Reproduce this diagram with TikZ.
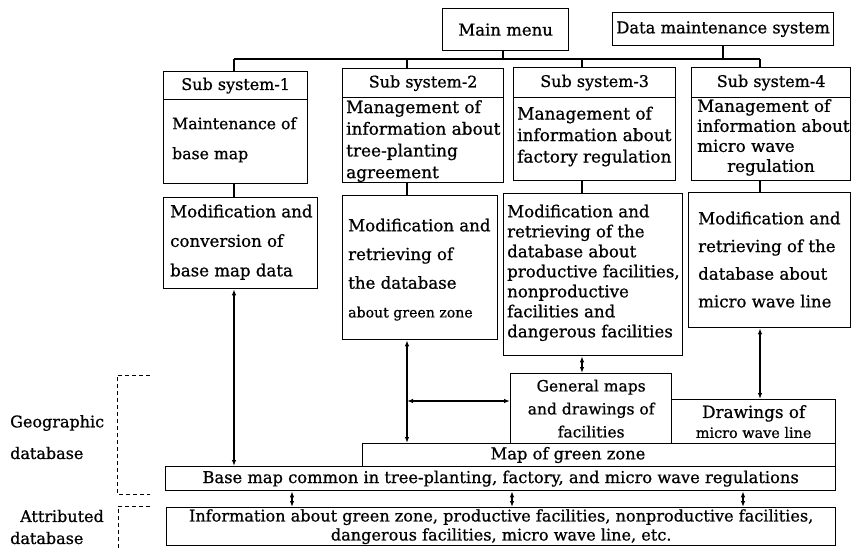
\documentclass[tikz,border=0pt]{standalone}
\usepackage{fontspec}
\setmainfont{DejaVu Serif}[RawFeature={embolden=0.8}]
\usetikzlibrary{arrows.meta}
\begin{document}
\begin{tikzpicture}[x=1pt,y=-1pt,
  box/.style={draw, line width=1.3pt, inner sep=0pt, anchor=north west, align=center,
    font=\fontsize{16.3}{23}\selectfont},
  head/.style={box, font=\fontsize{16}{19}\selectfont},
  txt/.style={inner sep=0pt, anchor=north west, align=left},
  lbl/.style={inner sep=0pt, anchor=west, font=\fontsize{16}{19}\selectfont},
  link/.style={line width=1.3pt},
  biarrow/.style={line width=1.3pt, {Latex[length=6pt,width=4.5pt]}-{Latex[length=6pt,width=4.5pt]}},
  bracket/.style={line width=1pt, dash pattern=on 4pt off 3pt}
]
\useasboundingbox (0,0) rectangle (851,549);

% top level menus
\node[box, minimum width=126pt, minimum height=42pt, font=\fontsize{16.5}{19}\selectfont] (main) at (442,8) {Main menu};
\node[box, minimum width=221pt, minimum height=33pt] (data) at (612,12) {Data maintenance system};

% sub systems: header and body
\node[head, minimum width=144pt, minimum height=28pt] (sub1h) at (163,71) {Sub system-1};
\node[box, minimum width=144pt, minimum height=84pt] (sub1b) at (163,99) {};
\node[head, minimum width=161pt, minimum height=29pt] (sub2h) at (342,68) {Sub system-2};
\node[box, minimum width=161pt, minimum height=85pt] (sub2b) at (342,97) {};
\node[head, minimum width=162pt, minimum height=30pt] (sub3h) at (513,67) {Sub system-3};
\node[box, minimum width=162pt, minimum height=83pt] (sub3b) at (513,97) {};
\node[head, minimum width=159pt, minimum height=30pt] (sub4h) at (691,67) {Sub system-4};
\node[box, minimum width=159pt, minimum height=83pt] (sub4b) at (691,97) {};

\node[txt, font=\fontsize{15.7}{30}\selectfont] (sub1t) at (172,117) {Maintenance of\\base map};
\node[txt, font=\fontsize{16.9}{21.7}\selectfont] (sub2t) at (346,100) {Management of\\information about\\tree-planting\\agreement};
\node[txt, font=\fontsize{16.9}{21.5}\selectfont] (sub3t) at (517,106.5) {Management of\\information about\\factory regulation};
\node[txt, font=\fontsize{16.7}{20}\selectfont] (sub4t) at (697,99) {Management of\\information about\\micro wave\\\hspace*{30pt}regulation};

% database operation boxes
\node[box, minimum width=154pt, minimum height=91pt] (mod1) at (163,197) {};
\node[box, minimum width=155pt, minimum height=144pt] (mod2) at (342,195) {};
\node[box, minimum width=179pt, minimum height=162pt] (mod3) at (503,193) {};
\node[box, minimum width=162pt, minimum height=135pt] (mod4) at (688,192) {};

\node[txt, font=\fontsize{16.6}{29.5}\selectfont] (mod1t) at (170,204.5) {Modification and\\conversion of\\base map data};
\node[txt, font=\fontsize{16.6}{28.7}\selectfont] (mod2t) at (348,218.5) {Modification and\\retrieving of\\the database\\{\fontsize{14.1}{28.7}\selectfont about green zone}};
\node[txt, font=\fontsize{16.6}{20}\selectfont] (mod3t) at (507,204.5) {Modification and\\retrieving of the\\database about\\productive facilities,\\nonproductive\\facilities and\\dangerous facilities};
\node[txt, font=\fontsize{16.6}{27.7}\selectfont] (mod4t) at (698,211.5) {Modification and\\retrieving of the\\database about\\micro wave line};

% geographic database layers
\node[box, minimum width=161pt, minimum height=70pt, font=\fontsize{15.5}{23}\selectfont] (gen) at (510,373) {General maps\\and drawings of\\facilities};
\node[box, minimum width=164pt, minimum height=44pt, font=\fontsize{16.8}{20}\selectfont] (drw) at (671,399) {Drawings of\\{\fontsize{14.4}{20}\selectfont micro wave line}};
\node[box, minimum width=473pt, minimum height=23pt] (green) at (362,443) {};
\node[inner sep=0pt, font=\fontsize{16.3}{19}\selectfont] (greent) at (568,455) {Map of green zone};
\node[box, minimum width=670pt, minimum height=24pt] (base) at (165,466) {Base map common in tree-planting, factory, and micro wave regulations};

% attribute database
\node[box, minimum width=669pt, minimum height=38pt, font=\fontsize{16.1}{19}\selectfont] (info) at (166,507) {Information about green zone, productive facilities, nonproductive facilities,\\dangerous facilities, micro wave line, etc.};

% side labels
\node[lbl] (geo1) at (10,423) {Geographic};
\node[lbl] (geo2) at (10,453) {database};
\node[lbl] (att1) at (20,516) {Attributed};
\node[lbl] (att2) at (10,538) {database};
\draw[bracket] (150,375) -- (117,375) -- (117,494) -- (150,494);
\draw[bracket] (150,506) -- (118,506) -- (118,549);

% menu bus
\coordinate (busL) at (234,59);
\coordinate (busR) at (760,59);
\coordinate (m0) at (503,0);
\coordinate (m1) at (723,0);
\coordinate (c1) at (234,0);
\coordinate (c2) at (407,0);
\coordinate (c3) at (582,0);
\coordinate (c4) at (760,0);
\draw[link] (busL) -- (busR);
\draw[link] (m0 |- main.south) -- (m0 |- busL);
\draw[link] (m1 |- data.south) -- (m1 |- busL);

\draw[link] (c1 |- busL) -- (c1 |- sub1h.north);
\draw[link] (c2 |- busL) -- (c2 |- sub2h.north);
\draw[link] (c3 |- busL) -- (c3 |- sub3h.north);
\draw[link] (c4 |- busL) -- (c4 |- sub4h.north);

\draw[link] (c1 |- sub1b.south) -- (c1 |- mod1.north);
\draw[link] (c2 |- sub2b.south) -- (c2 |- mod2.north);
\draw[link] (c3 |- sub3b.south) -- (c3 |- mod3.north);
\draw[link] (c4 |- sub4b.south) -- (c4 |- mod4.north);

% data flows
\draw[biarrow] (c1 |- mod1.south) -- (c1 |- base.north);
\draw[biarrow] (c2 |- mod2.south) -- (c2 |- green.north);
\coordinate (hj) at (407,401);
\draw[biarrow] (hj) -- (hj -| gen.west);
\draw[biarrow] (c3 |- mod3.south) -- (c3 |- gen.north);
\draw[biarrow] (c4 |- mod4.south) -- (c4 |- drw.north);

\coordinate (d1) at (292,0);
\coordinate (d2) at (512,0);
\coordinate (d3) at (743,0);
\draw[biarrow] (d1 |- base.south) -- (d1 |- info.north);
\draw[biarrow] (d2 |- base.south) -- (d2 |- info.north);
\draw[biarrow] (d3 |- base.south) -- (d3 |- info.north);
\end{tikzpicture}
\end{document}
